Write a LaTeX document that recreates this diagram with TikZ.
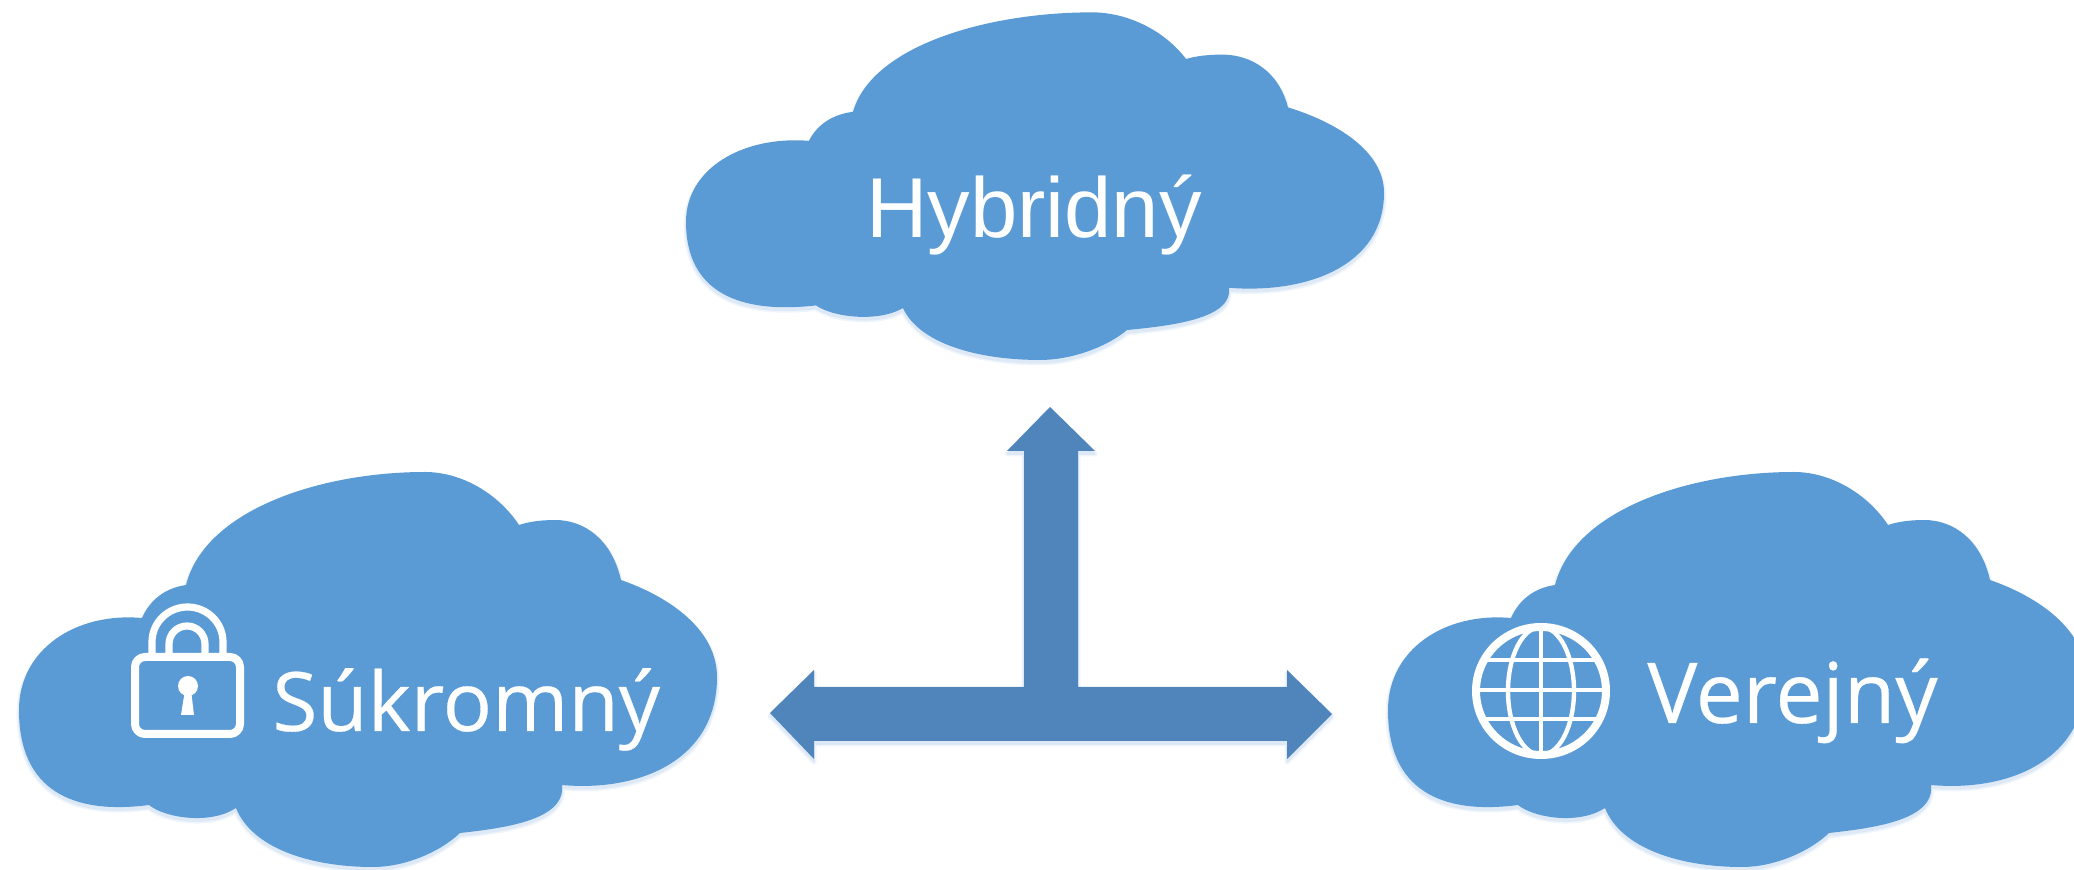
\documentclass[tikz,border=0pt]{standalone}
\usepackage{fontspec}
\setmainfont{Open Sans}
\newfontfamily\heavyfont[FakeBold=0.35]{Open Sans}
\newfontfamily\arialfont{Liberation Sans}
\definecolor{cloudblue}{HTML}{5B9BD5}
\definecolor{arrowblue}{HTML}{4F85BA}
\definecolor{hazea}{HTML}{F0F5FB}
\definecolor{hazeb}{HTML}{DDE9F6}
\newcommand{\cloudpath}{(142,618)
 .. controls (75,612) and (19,650) .. (19,710)
 .. controls (19,790) and (72,815) .. (149,805)
 .. controls (165,818) and (210,825) .. (236,808)
 .. controls (252,848) and (310,867) .. (373,867)
 .. controls (405,867) and (440,852) .. (460,833)
 .. controls (505,828) and (566,820) .. (562,785)
 .. controls (640,792) and (717,760) .. (717,677)
 .. controls (717,630) and (670,597) .. (621,580)
 .. controls (612,540) and (585,520) .. (555,520)
 .. controls (540,520) and (528,522) .. (519,525)
 .. controls (497,492) and (460,472) .. (425,472)
 .. controls (320,472) and (205,510) .. (186,585)
 .. controls (165,588) and (150,600) .. (142,618) -- cycle}
\newcommand{\arrowpath}{(1050,407) -- (1095,451) -- (1078,451) -- (1078,687) -- (1287,687) -- (1287,670) -- (1332,714) -- (1287,759) -- (1287,741) -- (814,741) -- (814,759) -- (770,713) -- (814,670) -- (814,687) -- (1024,687) -- (1024,451) -- (1007,451) -- cycle}
\tikzset{
  cloudfill/.style={fill=cloudblue,draw=none},
  glowouter/.style={fill=hazea,draw=hazea,line width=2.5pt,line join=round},
  glowinner/.style={fill=hazeb,draw=hazeb,line width=0.8pt,line join=round},
  label/.style={text=white,font=\heavyfont\fontsize{41pt}{41pt}\selectfont,inner sep=0pt,anchor=base west},
  iconline/.style={draw=white,line width=3.6pt,line join=round},
  iconbody/.style={draw=white,line width=4pt,line join=round},
  iconthin/.style={draw=white,line width=2.2pt},
  arrowshape/.style={fill=arrowblue,draw=none}
}
\begin{document}
\begin{tikzpicture}[x=0.5pt,y=-0.5pt]
\useasboundingbox (0,0) rectangle (2074,870);
\clip (0,0) rectangle (2074,870);
% clouds: glow then fill
\begin{scope}[shift={(0,3)}] \path[glowouter] \cloudpath; \path[glowinner] \cloudpath; \end{scope}
\path[cloudfill] \cloudpath;
\begin{scope}[shift={(1369,3)}] \path[glowouter] \cloudpath; \path[glowinner] \cloudpath; \end{scope}
\begin{scope}[shift={(1369,0)}] \path[cloudfill] \cloudpath; \end{scope}
\begin{scope}[shift={(667,-400)},yscale=0.88] \path[glowouter] \cloudpath; \path[glowinner] \cloudpath; \end{scope}
\begin{scope}[shift={(667,-403)},yscale=0.88] \path[cloudfill] \cloudpath; \end{scope}
% arrow
\begin{scope}[shift={(0,3)}] \path[glowouter] \arrowpath; \path[glowinner] \arrowpath; \end{scope}
\path[arrowshape] \arrowpath;
% texts
\node[label,font=\arialfont\fontsize{42.5pt}{42.5pt}\selectfont] (hyb) at (866,238) {Hybridný};
\node[label] (suk) at (272,731) {Súkromný};
\node[label,font=\heavyfont\fontsize{42pt}{42pt}\selectfont] (ver) at (1647,723) {Verejný};
% lock
\draw[iconbody,rounded corners=5pt] (135,657) rectangle (240,734);
\draw[iconline] (152,657) -- (152,642) arc[start angle=180,end angle=360,x radius=35.5,y radius=35] -- (223,657);
\draw[iconline] (169,657) -- (169,644) arc[start angle=180,end angle=360,x radius=18,y radius=18] -- (205,657);
\fill[white] (188,686) circle[radius=10];
\fill[white] (185,690) -- (191,690) -- (194,715) -- (181,715) -- cycle;
% globe
\draw[iconbody] (1541,691) ellipse[x radius=65,y radius=64];
\draw[iconthin] (1541,691) ellipse[x radius=33,y radius=64];
\draw[iconthin] (1541,627) -- (1541,755);
\draw[iconthin] (1485,660) -- (1597,660);
\draw[iconthin] (1476,690) -- (1606,690);
\draw[iconthin] (1485,719) -- (1597,719);
\end{tikzpicture}
\end{document}
